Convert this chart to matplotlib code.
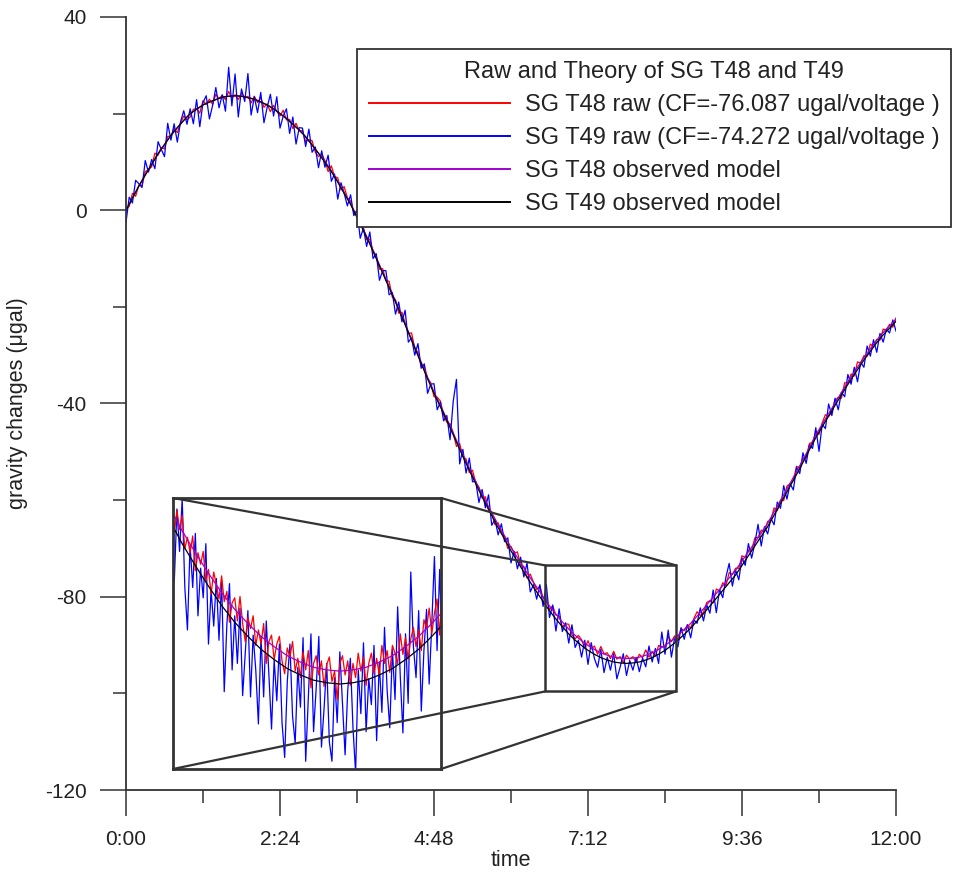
import numpy as np
import matplotlib
matplotlib.use('Agg')
import matplotlib.pyplot as plt
from matplotlib.patches import Rectangle, ConnectionPatch
from matplotlib.ticker import FixedLocator, MultipleLocator

plt.rcParams['font.family'] = ['Liberation Sans', 'DejaVu Sans']
plt.rcParams['axes.unicode_minus'] = False

# raw records, one value every 3 minutes (0:00 .. 12:00), in microgal
t49_raw = [
    -2.5, 2.7, 1.5, 6.2, 5.5, 4.7, 10.3, 7.9, 10.5, 8.6,
    14.2, 12.6, 11.1, 18.0, 14.5, 17.9, 14.1, 18.3, 20.6, 17.8,
    21.0, 17.9, 22.9, 17.3, 22.3, 23.7, 18.9, 21.7, 25.4, 21.2,
    23.9, 20.5, 29.6, 21.6, 28.2, 19.3, 25.1, 22.5, 28.3, 19.7,
    23.5, 20.2, 24.4, 18.1, 21.3, 24.0, 19.5, 23.5, 17.0, 19.5,
    21.0, 15.9, 19.3, 13.7, 17.1, 17.0, 13.2, 16.8, 12.0, 13.1,
    8.8, 12.3, 8.9, 11.4, 6.0, 7.5, 2.3, 5.7, 3.5, 0.9,
    3.2, -1.1, 0.0, -5.8, -3.7, -7.5, -4.5, -10.0, -9.0, -14.5,
    -12.5, -12.5, -17.5, -17.0, -21.5, -19.0, -23.1, -20.7, -27.3, -26.4,
    -30.0, -27.6, -32.7, -31.8, -37.9, -36.0, -35.9, -41.3, -39.7, -43.6,
    -42.5, -47.5, -39.5, -35.0, -52.5, -49.5, -54.4, -51.3, -56.2, -56.1,
    -60.5, -57.8, -61.6, -58.9, -65.2, -64.0, -67.2, -64.9, -68.6, -67.8,
    -73.0, -70.6, -74.2, -71.8, -75.9, -73.0, -79.0, -77.5, -80.5, -77.5,
    -82.0, -77.4, -84.3, -81.7, -87.1, -82.5, -87.2, -85.4, -89.6, -85.8,
    -90.5, -89.0, -92.5, -89.0, -94.0, -89.5, -92.8, -94.6, -90.9, -95.7,
    -92.5, -95.2, -91.8, -97.0, -94.6, -91.8, -96.3, -93.2, -95.2, -92.6,
    -95.5, -92.7, -94.5, -90.2, -93.5, -90.7, -93.8, -87.3, -91.9, -86.9,
    -92.5, -88.5, -90.4, -86.4, -88.8, -85.8, -88.5, -84.8, -85.5, -82.3,
    -85.0, -81.7, -83.4, -78.6, -83.3, -78.5, -80.2, -75.9, -73.1, -77.8,
    -74.5, -76.5, -72.0, -73.5, -69.0, -72.0, -69.0, -65.0, -69.5, -65.5,
    -67.0, -63.8, -65.1, -60.4, -61.7, -57.0, -59.8, -56.6, -57.9, -53.2,
    -54.5, -50.2, -52.4, -48.6, -49.3, -45.0, -49.9, -44.3, -45.2, -40.1,
    -42.5, -38.9, -41.3, -37.7, -38.6, -34.0, -36.0, -32.5, -35.5, -31.5,
    -32.5, -28.1, -30.2, -26.8, -29.4, -25.5, -27.3, -24.6, -25.4, -22.7, -25.0,
]
t48_raw = [
    0.3, 0.8, 3.5, 2.9, 5.2, 5.1, 8.0, 8.4, 9.0, 11.8,
    11.4, 13.0, 12.7, 15.3, 15.3, 16.9, 16.1, 18.1, 19.5, 18.7,
    19.3, 20.9, 21.0, 20.1, 22.7, 21.9, 23.0, 21.9, 24.0, 23.1,
    23.8, 22.9, 24.6, 23.2, 23.9, 22.9, 24.3, 23.3, 23.6, 22.2,
    23.6, 22.3, 23.4, 21.3, 22.0, 20.4, 21.7, 20.5, 19.5, 20.7,
    18.7, 18.8, 16.9, 18.0, 16.4, 16.5, 14.2, 14.6, 14.4, 12.0,
    11.1, 11.6, 10.3, 8.0, 9.2, 7.0, 6.7, 4.2, 4.9, 2.6,
    1.9, -0.4, -0.2, -2.9, -3.7, -6.1, -6.0, -8.4, -9.4, -12.2,
    -12.1, -14.6, -14.7, -18.0, -18.5, -21.3, -21.1, -23.4, -25.5, -25.4,
    -28.5, -29.4, -32.3, -32.2, -34.8, -35.7, -38.6, -38.7, -39.5, -42.4,
    -43.9, -44.2, -46.1, -48.9, -48.3, -51.0, -51.5, -54.3, -53.8, -56.4,
    -57.3, -59.6, -59.3, -62.0, -62.7, -65.1, -64.7, -66.8, -67.5, -70.0,
    -69.6, -71.0, -70.7, -73.6, -73.7, -76.1, -75.3, -77.0, -78.5, -77.8,
    -80.3, -80.5, -82.7, -81.9, -83.8, -84.0, -86.2, -85.6, -85.7, -87.9,
    -88.7, -88.0, -88.9, -90.7, -89.1, -90.8, -90.2, -91.9, -90.3, -91.8,
    -91.6, -92.8, -91.3, -92.9, -92.4, -93.7, -92.1, -92.9, -92.4, -93.6,
    -91.9, -92.6, -91.0, -92.5, -91.3, -92.3, -90.1, -90.3, -90.4, -88.2,
    -89.3, -88.1, -88.8, -86.6, -87.0, -85.8, -86.5, -84.5, -83.1, -83.9,
    -83.2, -81.2, -80.8, -81.3, -78.4, -78.8, -77.1, -77.7, -75.0, -75.4,
    -74.1, -74.1, -71.5, -71.9, -70.3, -70.4, -67.8, -67.7, -66.2, -66.5,
    -64.4, -64.2, -61.6, -62.2, -60.0, -60.1, -57.1, -56.6, -55.9, -53.0,
    -53.3, -51.3, -51.3, -48.3, -48.0, -46.0, -46.4, -44.0, -42.3, -42.7,
    -41.7, -39.4, -38.7, -38.9, -35.7, -35.8, -33.9, -34.3, -31.4, -31.6,
    -30.1, -30.2, -27.7, -28.2, -26.7, -26.9, -24.6, -24.8, -23.6, -24.2, -22.3,
]

# observed models, one value every 6 minutes
model49 = [
    0.0, 2.5, 5.0, 7.3, 9.5, 11.7, 13.6, 15.5, 17.1, 18.6,
    20.0, 20.9, 21.8, 22.4, 22.9, 23.4, 23.6, 23.7, 23.6, 23.3,
    23.0, 22.4, 21.8, 21.0, 20.0, 19.0, 17.8, 16.6, 15.2, 13.5,
    11.8, 9.9, 8.0, 5.8, 3.5, 1.2, -1.5, -4.2, -7.0, -10.0,
    -13.0, -16.0, -19.0, -22.1, -25.3, -28.5, -31.7, -34.9, -37.9, -40.7,
    -43.5, -46.5, -49.5, -52.4, -55.2, -58.0, -60.6, -63.2, -65.7, -68.1,
    -70.5, -72.7, -74.9, -77.0, -79.0, -81.0, -82.9, -84.6, -86.2, -87.7,
    -89.0, -90.1, -91.1, -91.9, -92.6, -93.1, -93.5, -93.7, -93.8, -93.7,
    -93.5, -93.1, -92.6, -91.9, -91.1, -90.1, -89.0, -87.8, -86.5, -85.0,
    -83.5, -81.9, -80.3, -78.7, -77.1, -75.5, -73.5, -71.5, -69.5, -67.5,
    -65.5, -63.1, -60.7, -58.3, -55.9, -53.5, -50.9, -48.3, -45.9, -43.7,
    -41.5, -39.3, -37.1, -35.0, -33.0, -31.0, -29.2, -27.4, -25.8, -24.4,
    -23.0,
]
model48 = [
    0.0, 2.5, 5.0, 7.3, 9.5, 11.7, 13.6, 15.5, 17.1, 18.6,
    20.0, 20.9, 21.8, 22.4, 22.9, 23.4, 23.6, 23.7, 23.6, 23.3,
    23.0, 22.4, 21.8, 21.0, 20.0, 19.0, 17.8, 16.6, 15.2, 13.5,
    11.8, 10.1, 8.2, 6.0, 3.7, 1.4, -1.3, -4.0, -6.8, -9.8,
    -12.8, -15.8, -18.8, -21.9, -25.1, -28.3, -31.4, -34.6, -37.6, -40.4,
    -43.2, -46.1, -49.1, -52.0, -54.8, -57.5, -60.1, -62.6, -65.1, -67.4,
    -69.8, -71.9, -74.0, -76.1, -78.0, -80.0, -81.9, -83.6, -85.2, -86.7,
    -88.0, -89.1, -90.1, -90.9, -91.6, -92.1, -92.5, -92.7, -92.8, -92.7,
    -92.5, -92.1, -91.6, -90.9, -90.1, -89.1, -88.0, -86.8, -85.5, -84.0,
    -82.5, -80.9, -79.3, -77.7, -76.1, -74.5, -72.6, -70.7, -68.8, -66.8,
    -64.8, -62.4, -60.1, -57.7, -55.3, -52.9, -50.4, -47.8, -45.4, -43.2,
    -41.0, -38.8, -36.6, -34.5, -32.5, -30.5, -28.7, -26.9, -25.3, -23.9,
    -22.5,
]

# 1.2-minute records used in the zoom window (6:30 .. 8:36)
zoom_t49 = [
    -83.5, -79.9, -85.8, -80.2, -83.5, -79.4, -86.3, -89.6, -83.0, -86.3,
    -82.1, -88.5, -84.8, -87.1, -82.9, -90.7, -86.5, -89.3, -85.6, -90.4,
    -85.7, -94.4, -89.2, -86.0, -92.7, -88.5, -92.2, -87.9, -94.7, -91.4,
    -88.1, -94.8, -90.0, -92.7, -96.9, -90.1, -94.8, -88.9, -93.1, -97.3,
    -91.9, -95.1, -90.7, -96.8, -99.5, -93.6, -90.7, -96.3, -98.4, -92.5,
    -95.6, -90.2, -99.8, -94.9, -89.9, -97.5, -94.1, -90.1, -98.7, -95.7,
    -92.2, -98.3, -99.8, -93.3, -96.8, -91.3, -95.3, -99.3, -94.3, -91.8,
    -97.2, -100.7, -92.7, -96.1, -90.6, -97.5, -93.4, -95.4, -90.8, -98.2,
    -92.1, -96.0, -89.4, -94.3, -97.2, -91.1, -95.0, -87.8, -93.2, -97.6,
    -89.9, -95.3, -85.1, -90.9, -93.3, -88.1, -95.9, -91.2, -88.0, -93.8,
    -89.1, -83.9, -91.2, -84.9, -91.2, -85.5,
]
zoom_t48 = [
    -80.8, -79.9, -82.0, -80.3, -81.8, -80.7, -83.3, -82.4, -83.6, -82.3,
    -85.0, -83.6, -84.5, -83.5, -85.8, -84.9, -86.8, -85.1, -86.1, -87.2,
    -85.4, -87.4, -86.6, -89.0, -87.5, -87.1, -88.9, -87.0, -89.1, -90.5,
    -88.6, -89.5, -88.5, -90.8, -89.6, -90.7, -89.1, -92.2, -90.5, -90.0,
    -91.9, -90.7, -90.1, -92.0, -93.0, -91.0, -91.7, -90.5, -92.8, -91.8,
    -93.3, -91.3, -92.7, -91.2, -94.1, -92.2, -91.6, -93.1, -92.0, -94.0,
    -92.3, -91.7, -93.6, -92.8, -95.0, -92.2, -91.6, -93.1, -92.0, -93.9,
    -92.2, -93.3, -91.4, -92.8, -91.7, -93.9, -92.2, -91.4, -93.0, -91.8,
    -93.1, -90.8, -92.2, -91.2, -92.9, -90.8, -91.4, -92.2, -89.9, -91.5,
    -90.2, -91.9, -90.3, -89.4, -90.9, -89.6, -91.2, -88.8, -89.5, -87.9,
    -89.9, -88.3, -87.2, -90.0, -86.2, -87.2,
]

t_raw = np.linspace(0, 12, len(t49_raw))
t_model = np.linspace(0, 12, len(model49))
t_zoom = np.linspace(6.5, 8.6, len(zoom_t49))

tick_hours = [0, 2.4, 4.8, 7.2, 9.6, 12]
tick_labels = ['0:00', '2:24', '4:48', '7:12', '9:36', '12:00']

labels = ['SG T48 raw (CF=-76.087 ugal/voltage )',
          'SG T49 raw (CF=-74.272 ugal/voltage )',
          'SG T48 observed model',
          'SG T49 observed model']
colors = ['#ff0000', '#0000ff', '#a000d0', '#000000']

# zoom window drawn on the main plot, and the range shown in the inset
box_x = (6.53, 8.57)
box_y = (-99.6, -73.5)
inset_y = (-100.4, -79.35)

fig = plt.figure(figsize=(9.55, 8.75), dpi=100)
ax = fig.add_axes([126 / 955, 1 - 790 / 875, 770 / 955, 773 / 875])

h1, = ax.plot(t_raw, t48_raw, color=colors[0], lw=0.9, label=labels[0])
h2, = ax.plot(t_raw, t49_raw, color=colors[1], lw=0.9, label=labels[1])
h3, = ax.plot(t_model, model48, color=colors[2], lw=0.9, label=labels[2])
h4, = ax.plot(t_model, model49, color=colors[3], lw=0.9, label=labels[3])

ax.set_xlim(0, 12)
ax.set_ylim(-120, 40)
for s in ['top', 'right']:
    ax.spines[s].set_visible(False)
for s in ['left', 'bottom']:
    ax.spines[s].set_color('#333333')
    ax.spines[s].set_linewidth(1.3)

ax.xaxis.set_major_locator(FixedLocator(tick_hours))
ax.set_xticklabels(tick_labels)
ax.xaxis.set_minor_locator(MultipleLocator(1.2))
ax.yaxis.set_major_locator(MultipleLocator(40))
ax.yaxis.set_minor_locator(MultipleLocator(20))
ax.tick_params(which='major', direction='out', length=18.5, width=1.1,
               color='#333333', labelsize=15, labelcolor='#222222', pad=10)
ax.tick_params(which='minor', direction='out', length=9.5, width=1.1,
               color='#333333')

ax.set_xlabel('time', fontsize=15.5, color='#222222')
ax.set_ylabel('gravity changes (μgal)', fontsize=15.5, color='#222222')
ax.xaxis.set_label_coords(0.5, -0.078)
ax.yaxis.set_label_coords(-0.127, 0.5)

ax.add_patch(Rectangle((box_x[0], box_y[0]), box_x[1] - box_x[0],
                       box_y[1] - box_y[0], fill=False,
                       edgecolor='#333333', lw=1.8, zorder=6))

leg = ax.legend(handles=[h1, h2, h3, h4], loc='upper left',
                bbox_to_anchor=(357 / 955, 1 - 49 / 875),
                bbox_transform=fig.transFigure, borderaxespad=0,
                title='Raw and Theory of SG T48 and T49',
                fontsize=17, title_fontsize=17, fancybox=False,
                edgecolor='#333333', framealpha=1, handlelength=6.0,
                handletextpad=0.6, labelspacing=0.47, borderpad=0.5)
leg.get_frame().set_linewidth(1.3)
for txt in leg.get_texts():
    txt.set_color('#222222')
for line in leg.get_lines():
    line.set_linewidth(1.4)
leg.get_title().set_color('#222222')

# inset
ins = fig.add_axes([173 / 955, 1 - 769 / 875, 268 / 955, 271 / 875])
ins.plot(t_zoom, zoom_t49, color=colors[1], lw=0.9)
ins.plot(t_zoom, zoom_t48, color=colors[0], lw=0.9)
ins.plot(t_model, model48, color=colors[2], lw=0.9)
ins.plot(t_model, model49, color=colors[3], lw=0.9)
ins.set_xlim(*box_x)
ins.set_ylim(*inset_y)
ins.set_xticks([])
ins.set_yticks([])
for s in ins.spines.values():
    s.set_color('#333333')
    s.set_linewidth(2)

corners = [((0, 1), (box_x[0], box_y[1])), ((1, 1), (box_x[1], box_y[1])),
           ((0, 0), (box_x[0], box_y[0])), ((1, 0), (box_x[1], box_y[0]))]
for a, b in corners:
    cp = ConnectionPatch(xyA=a, coordsA=ins.transAxes, xyB=b,
                         coordsB=ax.transData, color='#333333', lw=1.6)
    cp.set_zorder(10)
    fig.add_artist(cp)

fig.savefig('out.png', dpi=100)
